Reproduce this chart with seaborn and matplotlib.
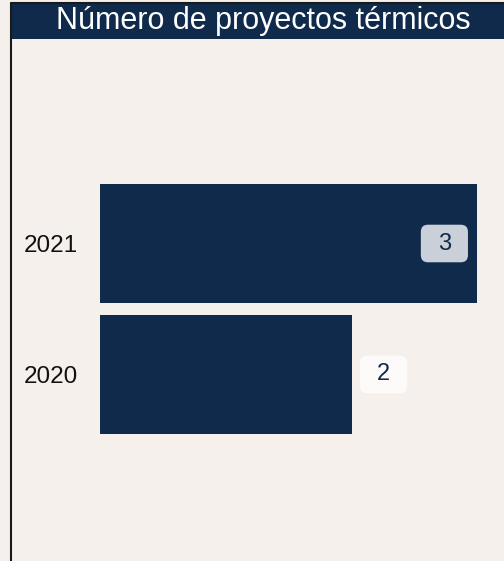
import matplotlib
matplotlib.use("Agg")
import matplotlib.pyplot as plt
import seaborn as sns
import pandas as pd
from matplotlib.patches import Rectangle, BoxStyle
from matplotlib.lines import Line2D

# ---- data ----
years = ["2021", "2020"]
projects = [3, 2]
title = "Número de proyectos térmicos"

NAVY = "#0f2a4b"
BG = "#f5f0eb"


class WideRound(BoxStyle.Round):
    def __init__(self, padx=0.7, pady=0.33, rounding_size=0.3):
        super().__init__(pad=pady, rounding_size=rounding_size)
        self.extra = padx - pady

    def __call__(self, x0, y0, width, height, mutation_size):
        e = self.extra * mutation_size
        return super().__call__(x0 - e, y0, width + 2 * e, height, mutation_size)


sns.set_theme(style="white")
plt.rcParams["font.family"] = ["Liberation Sans", "DejaVu Sans"]

W, H = 504, 561
fig = plt.figure(figsize=(W / 100, H / 100), dpi=100)
fig.patch.set_facecolor(BG)

ax_left, ax_right, ax_top, ax_bottom = 100, 504, 40, 561
ax = fig.add_axes([ax_left / W, 1 - ax_bottom / H, (ax_right - ax_left) / W, (ax_bottom - ax_top) / H])
ax.set_facecolor(BG)

df = pd.DataFrame({"year": years, "n": projects})
sns.barplot(data=df, x="n", y="year", order=years, orient="h", color=NAVY,
            saturation=1, width=0.91, linewidth=0, ax=ax)

px_per_unit = 125.8
ax.set_xlim(0, (ax_right - ax_left) / px_per_unit)
cat_px = 131.0
top_unit = -(243.5 - ax_top) / cat_px
ax.set_ylim(top_unit + (ax_bottom - ax_top) / cat_px, top_unit)

for s in ax.spines.values():
    s.set_visible(False)
ax.set_xticks([])
ax.set_xlabel("")
ax.set_ylabel("")
ax.tick_params(axis="y", length=0, pad=16, labelsize=17.5, labelcolor="#111111")

# value labels
xmax = max(projects)
for i, v in enumerate(projects):
    inside = v == xmax
    ax.annotate(f"{v}", xy=(v, i), xytext=(-33 if inside else 32, 0), textcoords="offset pixels",
                ha="center", va="center", fontsize=17, color=NAVY,
                bbox=dict(boxstyle=WideRound(0.72, 0.33, 0.3),
                          fc="#c9d0d9" if inside else "#fdfbf9", ec="none"))

# title bar and border
fig.patches.append(Rectangle((11 / W, 1 - 39 / H), (W - 11) / W, 36 / H,
                             transform=fig.transFigure, facecolor=NAVY, edgecolor="none", zorder=0))
fig.lines.append(Line2D([10.5 / W, 10.5 / W], [0, 1 - 2.5 / H], transform=fig.transFigure,
                        color="#1a1a1a", lw=1.5))
fig.lines.append(Line2D([10.5 / W, 1], [1 - 2.5 / H, 1 - 2.5 / H], transform=fig.transFigure,
                        color="#1a1a1a", lw=1.5))
fig.text(263.5 / W, 1 - 21 / H, title, ha="center", va="center",
         color="white", fontsize=22)

fig.savefig("out.png", dpi=100, facecolor=BG)
